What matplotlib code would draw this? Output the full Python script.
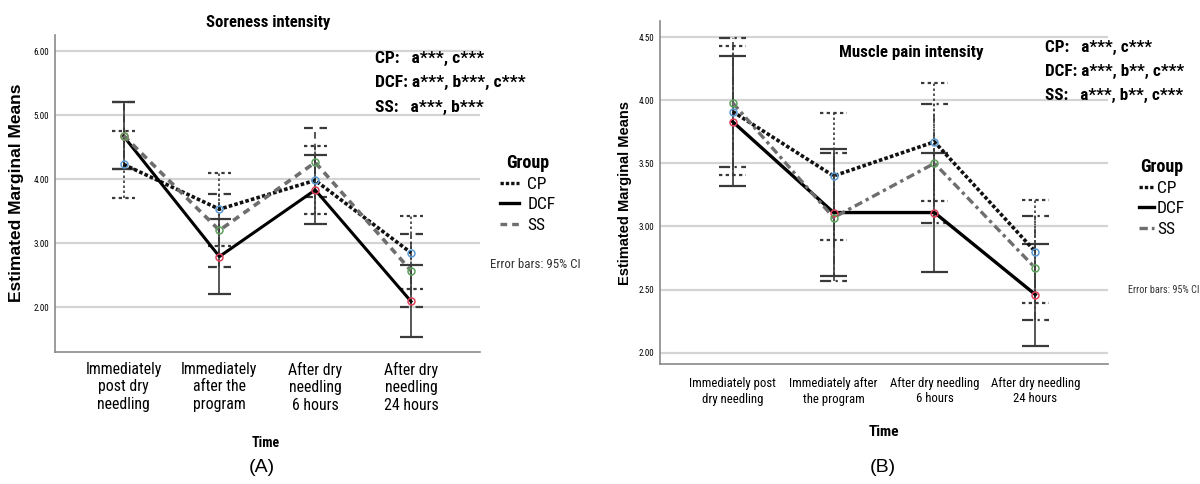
import matplotlib
matplotlib.use("Agg")
import matplotlib.pyplot as plt
from matplotlib import font_manager
from matplotlib.lines import Line2D
import numpy as np

# ---------------- data ----------------
groups = ["CP", "DCF", "SS"]

times_a = ["Immediately\npost dry\nneedling", "Immediately\nafter the\nprogram",
           "After dry\nneedling\n6 hours", "After dry\nneedling\n24 hours"]
times_b = ["Immediately post\ndry needling", "Immediately after\nthe program",
           "After dry needling\n6 hours", "After dry needling\n24 hours"]

# Panel A: Soreness intensity (means, CI lower, CI upper)
a_cp_mean = [4.23, 3.53, 3.98, 2.85]
a_cp_lo = [3.70, 2.96, 3.45, 2.29]
a_cp_hi = [4.75, 4.10, 4.52, 3.42]
a_dcf_mean = [4.67, 2.79, 3.83, 2.09]
a_dcf_lo = [4.15, 2.21, 3.30, 1.53]
a_dcf_hi = [5.20, 3.37, 4.37, 2.66]
a_ss_mean = [4.68, 3.20, 4.26, 2.57]
a_ss_lo = [4.15, 2.63, 3.72, 2.01]
a_ss_hi = [5.21, 3.77, 4.80, 3.14]

# Panel B: Muscle pain intensity
b_cp_mean = [3.91, 3.40, 3.67, 2.80]
b_cp_lo = [3.41, 2.89, 3.20, 2.39]
b_cp_hi = [4.43, 3.90, 4.14, 3.21]
b_dcf_mean = [3.83, 3.11, 3.11, 2.46]
b_dcf_lo = [3.32, 2.61, 2.64, 2.05]
b_dcf_hi = [4.35, 3.61, 3.58, 2.86]
b_ss_mean = [3.98, 3.07, 3.50, 2.67]
b_ss_lo = [3.47, 2.57, 3.03, 2.26]
b_ss_hi = [4.49, 3.58, 3.97, 3.08]

yticks_a = [2.0, 3.0, 4.0, 5.0, 6.0]
yticks_b = [2.0, 2.5, 3.0, 3.5, 4.0, 4.5]

# ---------------- fonts ----------------
avail = {f.name for f in font_manager.fontManager.ttflist}
NARROW = "Liberation Sans"
for cand in ["Liberation Sans Narrow", "Arial Narrow", "Roboto Condensed", "PT Sans Narrow",
             "Archivo Narrow"]:
    if cand in avail:
        NARROW = cand
        break
narrow_scale = 1.0 if NARROW != "Liberation Sans" else 0.85
plt.rcParams["font.family"] = [NARROW, "DejaVu Sans"]
WIDE = ["Liberation Sans", "DejaVu Sans"]

W, H = 1200, 484
fig = plt.figure(figsize=(W / 100, H / 100), dpi=100)


def fx(px):
    return px / W


def fy(py):
    return 1 - py / H


marker_cols = {"CP": "#5b9bd5", "DCF": "#e0405a", "SS": "#5aa05a"}
GRID = "#d4d4d4"
ERR = "#3a3a3a"


def draw_panel(rect, ylim, yticks, labels, series, styles, capw, xt_size, xt_ls, xt_pad):
    ax = fig.add_axes(rect)
    x = np.arange(len(labels))
    ax.set_xlim(-0.72, len(labels) - 1 + 0.72)
    ax.set_ylim(*ylim)
    for s in ["top", "right"]:
        ax.spines[s].set_visible(False)
    for s in ["left", "bottom"]:
        ax.spines[s].set_color("#8a8a8a")
        ax.spines[s].set_linewidth(1.2)
    ax.set_yticks(yticks)
    ax.set_yticklabels([f"{v:.2f}" for v in yticks], fontsize=6.5 * narrow_scale)
    ax.set_xticks(x)
    ax.set_xticklabels(labels, fontsize=xt_size * narrow_scale, linespacing=xt_ls)
    ax.tick_params(length=0, pad=4)
    ax.tick_params(axis="x", pad=xt_pad)
    ax.yaxis.grid(True, color=GRID, linewidth=1.6)
    ax.set_axisbelow(True)
    for g in groups:
        mean, lo, hi = series[g]
        ls, lw, col, els = styles[g]
        ax.vlines(x, lo, hi, colors=ERR, linestyles=els, linewidth=1.2, zorder=2)
        ax.hlines(lo, x - capw, x + capw, colors=ERR, linestyles=els, linewidth=1.6, zorder=2)
        ax.hlines(hi, x - capw, x + capw, colors=ERR, linestyles=els, linewidth=1.6, zorder=2)
    for g in groups:
        mean, lo, hi = series[g]
        ls, lw, col, els = styles[g]
        ax.plot(x, mean, linestyle=ls, linewidth=lw, color=col, zorder=3)
        ax.plot(x, mean, linestyle="none", marker="o", markersize=5, mfc="none",
                mec=marker_cols[g], mew=1.1, zorder=4)
    return ax


# ---------------- Panel A ----------------
series_a = {"CP": (a_cp_mean, a_cp_lo, a_cp_hi),
            "DCF": (a_dcf_mean, a_dcf_lo, a_dcf_hi),
            "SS": (a_ss_mean, a_ss_lo, a_ss_hi)}
styles_a = {"CP": ((0, (1, 0.6)), 2.6, "#111111", (0, (1.5, 1.5))),
            "DCF": ("-", 2.2, "#000000", "-"),
            "SS": ((0, (2, 1.5)), 2.6, "#6e6e6e", (0, (4, 3)))}
axA = draw_panel([fx(54.6), fy(352), fx(480 - 54.6), (352 - 35) / H], (1.30, 6.25), yticks_a,
                 times_a, series_a, styles_a, 0.12, 11.4, 1.2, 7)
fig.text(fx(17), fy(193), "Estimated Marginal Means", rotation=90, ha="center", va="center",
         fontsize=12.5, fontweight="bold", family=WIDE)
fig.text(fx(268), fy(23), "Soreness intensity", ha="center", va="center",
         fontsize=12 * narrow_scale, fontweight="bold")
fig.text(fx(266), fy(443), "Time", ha="center", va="center", fontsize=10 * narrow_scale,
         fontweight="bold")
fig.text(fx(262), fy(468), "(A)", ha="center", va="center", fontsize=14, family=WIDE)
for txt, yy in [("CP:   a***, c***", 58), ("DCF: a***, b***, c***", 82), ("SS:   a***, b***", 107)]:
    fig.text(fx(375), fy(yy), txt, ha="left", va="center", fontsize=12.6 * narrow_scale,
             fontweight="bold")

hA = [Line2D([], [], linestyle=styles_a[g][0], linewidth=2.4, color=styles_a[g][2]) for g in groups]
fig.legend(hA, groups, loc="upper left", bbox_to_anchor=(fx(484), fy(138)),
           frameon=False, title="Group", fontsize=12.5 * narrow_scale,
           title_fontproperties={"weight": "bold", "size": 13 * narrow_scale},
           handlelength=1.1, handletextpad=0.5, labelspacing=0.3)
fig.text(fx(490), fy(265), "Error bars: 95% CI", ha="left", va="center",
         fontsize=9.3 * narrow_scale, color="#333333")

# ---------------- Panel B ----------------
series_b = {"CP": (b_cp_mean, b_cp_lo, b_cp_hi),
            "DCF": (b_dcf_mean, b_dcf_lo, b_dcf_hi),
            "SS": (b_ss_mean, b_ss_lo, b_ss_hi)}
styles_b = {"CP": ((0, (1, 0.6)), 2.6, "#111111", (0, (1.5, 1.5))),
            "DCF": ("-", 2.4, "#000000", "-"),
            "SS": ((0, (2.5, 1.2, 1, 1.2)), 2.4, "#6e6e6e", (0, (5, 2, 1, 2)))}
axB = draw_panel([fx(660), fy(364), fx(1108 - 660), (364 - 20.7) / H], (1.91, 4.63), yticks_b,
                 times_b, series_b, styles_b, 0.134, 9.2, 1.3, 9)
fig.text(fx(625), fy(193), "Estimated Marginal Means", rotation=90, ha="center", va="center",
         fontsize=10.5, fontweight="bold", family=WIDE)
fig.text(fx(911), fy(52), "Muscle pain intensity", ha="center", va="center",
         fontsize=12.2 * narrow_scale, fontweight="bold")
fig.text(fx(884), fy(432), "Time", ha="center", va="center", fontsize=11 * narrow_scale,
         fontweight="bold")
fig.text(fx(883), fy(468), "(B)", ha="center", va="center", fontsize=14, family=WIDE)
for txt, yy in [("CP:   a***, c***", 47), ("DCF: a***, b**, c***", 71), ("SS:   a***, b**, c***", 95)]:
    fig.text(fx(1045), fy(yy), txt, ha="left", va="center", fontsize=12.3 * narrow_scale,
             fontweight="bold")

hB = [Line2D([], [], linestyle=styles_b[g][0], linewidth=2.4, color=styles_b[g][2]) for g in groups]
fig.legend(hB, groups, loc="upper left", bbox_to_anchor=(fx(1123), fy(142)),
           frameon=False, title="Group", fontsize=12.5 * narrow_scale,
           title_fontproperties={"weight": "bold", "size": 13 * narrow_scale},
           handlelength=0.9, handletextpad=0.15, labelspacing=0.3)
fig.text(fx(1128), fy(290), "Error bars: 95% CI", ha="left", va="center",
         fontsize=7.3 * narrow_scale, color="#333333")

fig.savefig("out.png", dpi=100, facecolor="white")
